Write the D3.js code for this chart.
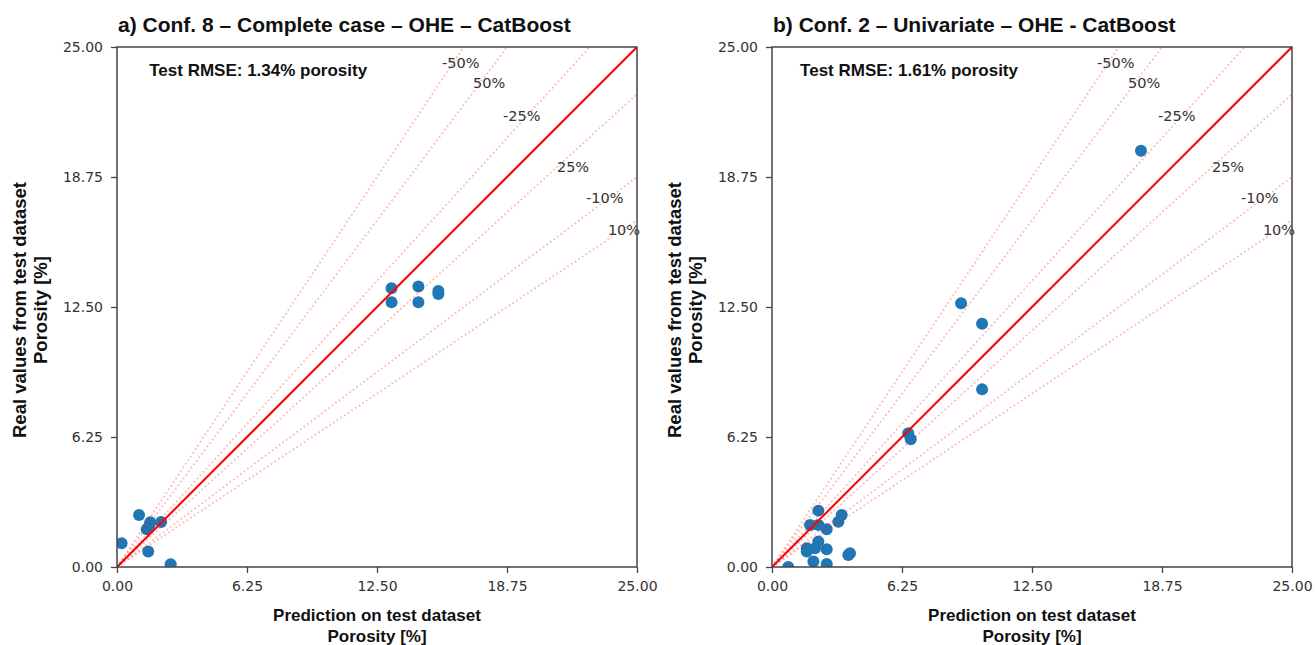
<!DOCTYPE html>
<html><head><meta charset="utf-8">
<script src="https://cdn.jsdelivr.net/npm/d3@7"></script>
<style>body{margin:0;background:#fff}</style>
</head><body><svg id="c" width="1315" height="645"></svg>
<script>
// ---- data ----
const tickValues = [0, 6.25, 12.5, 18.75, 25];
const tickLabels = ["0.00", "6.25", "12.50", "18.75", "25.00"];
const titles = ["a) Conf. 8 \u2013 Complete case \u2013 OHE \u2013 CatBoost", "b) Conf. 2 \u2013 Univariate \u2013 OHE - CatBoost"];
const rmseTexts = ["Test RMSE: 1.34% porosity", "Test RMSE: 1.61% porosity"];
const xLabel = ["Prediction on test dataset", "Porosity [%]"];
const yLabel = ["Real values from test dataset", "Porosity [%]"];

// panel a
const predA = [1.06, 1.6, 1.55, 2.12, 1.43, 0.22, 1.5, 2.58, 13.2, 13.2, 14.49, 14.49, 15.45, 15.45];
const realA = [2.5, 2.15, 2.0, 2.16, 1.81, 1.14, 0.74, 0.13, 13.4, 12.73, 13.48, 12.73, 13.27, 13.13];
// panel b
const predB = [2.23, 3.35, 3.19, 1.83, 2.23, 2.63, 2.23, 1.67, 2.07, 2.63, 1.67, 3.67, 3.75, 1.99, 2.63, 0.78,
               17.74, 9.09, 10.1, 10.1, 6.55, 6.67];
const realB = [2.71, 2.5, 2.18, 2.02, 2.02, 1.81, 1.22, 0.9, 0.9, 0.85, 0.74, 0.58, 0.66, 0.26, 0.14, 0.0,
               20.01, 12.68, 11.7, 8.54, 6.43, 6.14];

// error-band guide lines (real = slope * prediction) and their annotations
const bandSlopes = [1.5, 4 / 3, 1.1, 1 / 1.1, 0.75, 2 / 3];
const bandLabels = ["-50%", "50%", "-25%", "25%", "-10%", "10%"];
const bandLabelX = [15.63, 17.12, 18.56, 21.15, 22.55, 23.6];
const bandLabelY = [23.99, 23.03, 21.44, 18.99, 17.5, 15.96];

const panels = [
  {title: titles[0], rmse: rmseTexts[0], pred: predA, real: realA, left: 117},
  {title: titles[1], rmse: rmseTexts[1], pred: predB, real: realB, left: 772}
];

// ---- drawing ----
const svg = d3.select("#c");
svg.append("rect").attr("width", 1315).attr("height", 645).attr("fill", "#fff");
const topY = 47, size = 520;

panels.forEach((p, pi) => {
  const g = svg.append("g").attr("transform", `translate(${p.left},${topY})`);
  const x = d3.scaleLinear().domain([0, 25]).range([0, size]);
  const y = d3.scaleLinear().domain([0, 25]).range([size, 0]);

  const clipId = "clip" + pi;
  g.append("clipPath").attr("id", clipId).append("rect").attr("width", size).attr("height", size);

  const plot = g.append("g").attr("clip-path", `url(#${clipId})`);

  // scatter points
  plot.selectAll("circle").data(p.pred.map((v, i) => [v, p.real[i]])).join("circle")
    .attr("cx", d => x(d[0])).attr("cy", d => y(d[1])).attr("r", 6)
    .attr("fill", "#1f77b4");

  // dotted guide lines
  plot.selectAll("line.band").data(bandSlopes).join("line").attr("class", "band")
    .attr("x1", x(0)).attr("y1", y(0))
    .attr("x2", s => x(Math.min(25, 25 / s))).attr("y2", s => y(s * Math.min(25, 25 / s)))
    .attr("stroke", "rgba(255,0,0,0.28)").attr("stroke-width", 1.8)
    .attr("stroke-dasharray", "1.8,2.6");

  // identity line
  plot.append("line").attr("x1", x(0)).attr("y1", y(0)).attr("x2", x(25)).attr("y2", y(25))
    .attr("stroke", "#ff0000").attr("stroke-width", 2);

  // band labels
  g.selectAll("text.bl").data(bandLabels).join("text").attr("class", "bl")
    .attr("x", (d, i) => x(bandLabelX[i])).attr("y", (d, i) => y(bandLabelY[i]))
    .attr("font-family", "DejaVu Sans").attr("font-size", 14.5).attr("fill", "#333")
    .text(d => d);

  // frame
  g.append("rect").attr("width", size).attr("height", size).attr("fill", "none")
    .attr("stroke", "#444").attr("stroke-width", 1.5);

  // axes
  const fmt = (d) => tickLabels[tickValues.indexOf(d)];
  const ax = g.append("g").attr("transform", `translate(0,${size})`)
    .call(d3.axisBottom(x).tickValues(tickValues).tickFormat(fmt).tickSize(6).tickPadding(8));
  const ay = g.append("g")
    .call(d3.axisLeft(y).tickValues(tickValues).tickFormat(fmt).tickSize(6).tickPadding(8));
  [ax, ay].forEach(a => {
    a.select(".domain").remove();
    a.selectAll(".tick line").attr("stroke", "#444").attr("stroke-width", 1.3);
    a.selectAll(".tick text").attr("font-family", "DejaVu Sans").attr("font-size", 14).attr("fill", "#333");
  });

  // title
  svg.append("text").attr("x", p.left + 1).attr("y", 32)
    .attr("font-family", "Liberation Sans, Arial, sans-serif").attr("font-weight", "bold")
    .attr("font-size", 21).attr("fill", "#111").text(p.title);

  // rmse
  g.append("text").attr("x", x(pi === 0 ? 1.55 : 1.35)).attr("y", y(23.6))
    .attr("font-family", "Liberation Sans, Arial, sans-serif").attr("font-weight", "bold")
    .attr("font-size", 17).attr("fill", "#111").text(p.rmse);

  // x label
  xLabel.forEach((t, i) => {
    g.append("text").attr("x", size / 2).attr("y", size + 54 + i * 21)
      .attr("text-anchor", "middle")
      .attr("font-family", "Liberation Sans, Arial, sans-serif").attr("font-weight", "bold")
      .attr("font-size", 17).attr("fill", "#111").text(t);
  });
  // y label
  yLabel.forEach((t, i) => {
    g.append("text").attr("transform", `translate(${-91 + i * 21},${size / 2 + 3}) rotate(-90)`)
      .attr("text-anchor", "middle")
      .attr("font-family", "Liberation Sans, Arial, sans-serif").attr("font-weight", "bold")
      .attr("font-size", 18.5).attr("fill", "#111").text(t);
  });
});
</script>
</body></html>
